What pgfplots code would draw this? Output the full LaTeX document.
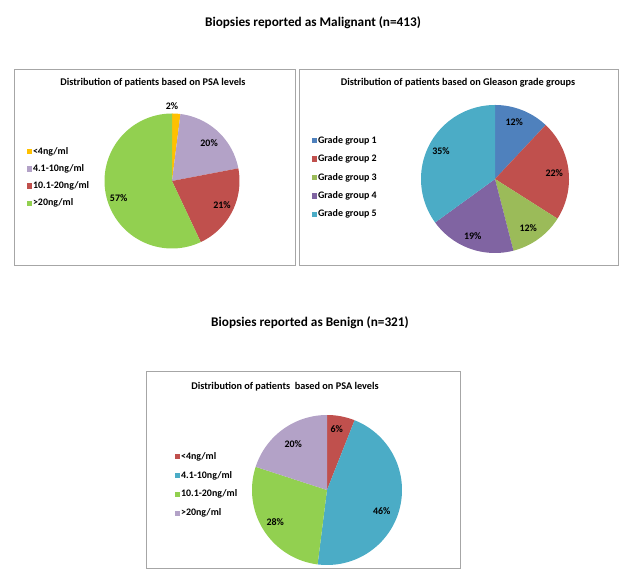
\documentclass[border=0pt]{standalone}
\usepackage{pgfplots}
\pgfplotsset{compat=1.18}
\usepackage{fontspec}
\setmainfont{Carlito}
\definecolor{cYellow}{HTML}{FFC000}
\definecolor{cLav}{HTML}{B3A2C7}
\definecolor{cRed}{HTML}{C0504D}
\definecolor{cLGreen}{HTML}{92D050}
\definecolor{cBlue}{HTML}{4F81BD}
\definecolor{cGreen}{HTML}{9BBB59}
\definecolor{cPurple}{HTML}{8064A2}
\definecolor{cAqua}{HTML}{4BACC6}
\definecolor{cFrame}{HTML}{A6A6A6}
% #1 cumulative percent before slice, #2 percent, #3 colour, #4 legend
\newcommand\slice[4]{%
  \addplot[fill=#3, draw=none, domain=90-3.6*(#1+#2):90-3.6*#1, samples=90]
    ({cos(x)},{sin(x)}) -- (axis cs:0,0) -- cycle;
  \addlegendentry{#4}}
\pgfplotsset{
  pie/.style={
    hide axis, scale only axis, clip=false,
    xmin=-1, xmax=1, ymin=-1, ymax=1,
    anchor=center,
    legend cell align=left,
    legend image code/.code={\fill[##1] (0bp,-2.7bp) rectangle (5.4bp,2.7bp);},
    legend style={draw=none, fill=none, inner sep=0pt, outer sep=0pt, anchor=west,
      font=\bfseries\fontsize{10}{11}\selectfont,
      nodes={inner sep=0.6bp, text height=7bp, text depth=2bp},
      /tikz/every even column/.append style={column sep=1.5bp}},
  },
}
\begin{document}
\begin{tikzpicture}
\path[use as bounding box] (0bp,0bp) rectangle (628bp,576bp);
% main titles
\node[font=\bfseries\fontsize{13.3}{15}\selectfont] at (313bp,553bp) {Biopsies reported as Malignant (n=413)};
\node[font=\bfseries\fontsize{13.3}{15}\selectfont] at (310bp,253bp) {Biopsies reported as Benign (n=321)};
% frames
\draw[cFrame, line width=0.9bp] (14bp,507bp) rectangle (295bp,311bp);
\draw[cFrame, line width=0.9bp] (299bp,507bp) rectangle (618bp,311bp);
\draw[cFrame, line width=0.9bp] (146bp,205bp) rectangle (460bp,8bp);
% box titles
\node[font=\bfseries\fontsize{10.3}{12}\selectfont] at (153bp,493bp) {Distribution of patients based on PSA levels};
\node[font=\bfseries\fontsize{10.3}{12}\selectfont] at (458bp,493bp) {Distribution of patients based on Gleason grade groups};
\node[font=\bfseries\fontsize{10.3}{12}\selectfont] at (285bp,189bp) {Distribution of patients\ \ based on PSA levels};

% Pie 1: malignant PSA
\begin{axis}[pie, at={(172bp,395bp)}, width=135bp, height=135bp,
  legend style={at={(-0.574,0.526)}, row sep=7bp}]
\slice{0}{2}{cYellow}{<4ng/ml}
\slice{2}{20}{cLav}{4.1-10ng/ml}
\slice{22}{21}{cRed}{10.1-20ng/ml}
\slice{43}{57}{cLGreen}{>20ng/ml}
\begin{scope}[every node/.style={font=\bfseries\fontsize{10}{11}\selectfont}]
\node at (axis cs:0,1.11) {2\%};
\node at (axis cs:0.55,0.56) {20\%};
\node at (axis cs:0.74,-0.36) {21\%};
\node at (axis cs:-0.79,-0.25) {57\%};
\end{scope}
\end{axis}

% Pie 2: Gleason grade groups
\begin{axis}[pie, at={(495bp,397bp)}, width=148bp, height=148bp,
  legend style={at={(-0.736,0.51)}, row sep=8.2bp}]
\slice{0}{12}{cBlue}{Grade group 1}
\slice{12}{22}{cRed}{Grade group 2}
\slice{34}{12}{cGreen}{Grade group 3}
\slice{46}{19}{cPurple}{Grade group 4}
\slice{65}{35}{cAqua}{Grade group 5}
\begin{scope}[every node/.style={font=\bfseries\fontsize{10}{11}\selectfont}]
\node at (axis cs:0.26,0.77) {12\%};
\node at (axis cs:0.80,0.08) {22\%};
\node at (axis cs:0.45,-0.66) {12\%};
\node at (axis cs:-0.30,-0.77) {19\%};
\node at (axis cs:-0.73,0.38) {35\%};
\end{scope}
\end{axis}

% Pie 3: benign PSA
\begin{axis}[pie, at={(327bp,86bp)}, width=150bp, height=150bp,
  legend style={at={(-0.513,0.533)}, row sep=8.7bp}]
\slice{0}{6}{cRed}{<4ng/ml}
\slice{6}{46}{cAqua}{4.1-10ng/ml}
\slice{52}{28}{cLGreen}{10.1-20ng/ml}
\slice{80}{20}{cLav}{>20ng/ml}
\begin{scope}[every node/.style={font=\bfseries\fontsize{10}{11}\selectfont}]
\node at (axis cs:0.13,0.81) {6\%};
\node at (axis cs:0.73,-0.28) {46\%};
\node at (axis cs:-0.69,-0.43) {28\%};
\node at (axis cs:-0.45,0.61) {20\%};
\end{scope}
\end{axis}
\end{tikzpicture}
\end{document}
